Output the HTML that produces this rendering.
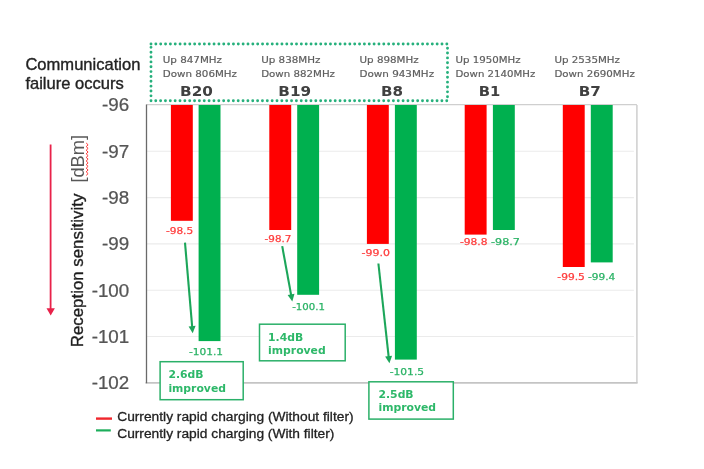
<!DOCTYPE html>
<html lang="en"><head><meta charset="utf-8"><title>Reception sensitivity chart</title>
<style>html,body{margin:0;padding:0;background:#fff}body{width:704px;height:469px;overflow:hidden}svg{display:block}.a{font-family:"Liberation Sans",Arial,sans-serif}.v{font-family:"DejaVu Sans",Verdana,sans-serif}.b{font-family:"DejaVu Sans",Verdana,sans-serif;font-weight:bold}</style></head><body>
<svg width="704" height="469" viewBox="0 0 704 469">
<defs><filter id="soft" x="0" y="0" width="704" height="469" filterUnits="userSpaceOnUse"><feGaussianBlur stdDeviation="0.7"/></filter></defs>
<rect width="704" height="469" fill="#fff"/>
<g filter="url(#soft)">
<rect width="704" height="469" fill="#fff"/>
<line x1="146.5" x2="633.9" y1="151.3" y2="151.3" stroke="#ebebeb" stroke-width="1.1"/>
<line x1="146.5" x2="633.9" y1="197.6" y2="197.6" stroke="#ebebeb" stroke-width="1.1"/>
<line x1="146.5" x2="633.9" y1="243.9" y2="243.9" stroke="#ebebeb" stroke-width="1.1"/>
<line x1="146.5" x2="633.9" y1="290.2" y2="290.2" stroke="#ebebeb" stroke-width="1.1"/>
<line x1="146.5" x2="633.9" y1="336.5" y2="336.5" stroke="#ebebeb" stroke-width="1.1"/>
<line x1="146.5" x2="636.9" y1="104.6" y2="104.6" stroke="#cfcfcf" stroke-width="1.2"/>
<line x1="636.9" x2="636.9" y1="105.0" y2="382.8" stroke="#cecece" stroke-width="1.5"/>
<line x1="145.5" x2="637.6" y1="382.8" y2="382.8" stroke="#c4c4c4" stroke-width="1.8"/>
<line x1="146.5" x2="146.5" y1="104.5" y2="383.3" stroke="#6a6a6a" stroke-width="1.3"/>
<rect x="170.9" y="105.0" width="21.9" height="115.8" fill="#ff0000"/>
<rect x="198.6" y="105.0" width="21.9" height="236.1" fill="#00b050"/>
<rect x="269.3" y="105.0" width="21.9" height="125.0" fill="#ff0000"/>
<rect x="297.2" y="105.0" width="21.9" height="189.8" fill="#00b050"/>
<rect x="366.9" y="105.0" width="21.9" height="138.9" fill="#ff0000"/>
<rect x="394.9" y="105.0" width="21.9" height="254.6" fill="#00b050"/>
<rect x="464.7" y="105.0" width="21.9" height="129.6" fill="#ff0000"/>
<rect x="492.9" y="105.0" width="21.9" height="125.0" fill="#00b050"/>
<rect x="562.8" y="105.0" width="21.9" height="162.0" fill="#ff0000"/>
<rect x="590.8" y="105.0" width="21.9" height="157.4" fill="#00b050"/>
<text class="a" transform="translate(129.2,111.4) scale(1.055,1)" font-size="17.8" fill="#555" stroke="#555" stroke-width="0.25" text-anchor="end">-96</text>
<text class="a" transform="translate(129.2,157.7) scale(1.055,1)" font-size="17.8" fill="#555" stroke="#555" stroke-width="0.25" text-anchor="end">-97</text>
<text class="a" transform="translate(129.2,204.0) scale(1.055,1)" font-size="17.8" fill="#555" stroke="#555" stroke-width="0.25" text-anchor="end">-98</text>
<text class="a" transform="translate(129.2,250.3) scale(1.055,1)" font-size="17.8" fill="#555" stroke="#555" stroke-width="0.25" text-anchor="end">-99</text>
<text class="a" transform="translate(129.2,296.6) scale(1.055,1)" font-size="17.8" fill="#555" stroke="#555" stroke-width="0.25" text-anchor="end">-100</text>
<text class="a" transform="translate(129.2,342.9) scale(1.055,1)" font-size="17.8" fill="#555" stroke="#555" stroke-width="0.25" text-anchor="end">-101</text>
<text class="a" transform="translate(129.2,389.2) scale(1.055,1)" font-size="17.8" fill="#555" stroke="#555" stroke-width="0.25" text-anchor="end">-102</text>
<text class="a" x="25.4" y="70" font-size="16.4" fill="#222" stroke="#222" stroke-width="0.35" textLength="115" lengthAdjust="spacingAndGlyphs">Communication</text>
<text class="a" x="25.4" y="89" font-size="16.4" fill="#222" stroke="#222" stroke-width="0.35" textLength="98.4" lengthAdjust="spacingAndGlyphs">failure occurs</text>
<text class="a" transform="translate(82.6,347.2) rotate(-90)" font-size="16.8" fill="#1f1f1f" stroke="#1f1f1f" stroke-width="0.35" textLength="153.5" lengthAdjust="spacingAndGlyphs">Reception sensitivity</text>
<text class="a" transform="translate(83.6,182.6) rotate(-90)" font-size="17.6" fill="#595959" textLength="47.6" lengthAdjust="spacingAndGlyphs">[dBm]</text>
<path d="M86.2 143 L88.1 144.8 L86.2 146.6 L88.1 148.4 L86.2 150.2 L88.1 152.0 L86.2 153.8 L88.1 155.6 L86.2 157.4 L88.1 159.2 L86.2 161.0 L88.1 162.8 L86.2 164.6 L88.1 166.4 L86.2 168.2 L88.1 170.0 L86.2 171.8 L88.1 173.6 L86.2 175.4" fill="none" stroke="#ff3030" stroke-width="1"/>
<line x1="50.6" x2="50.6" y1="144.5" y2="310" stroke="#e8214a" stroke-width="1.8"/>
<path d="M46.5 308.2 L54.9 308.2 L50.7 315.6 Z" fill="#e8214a"/>
<rect x="151" y="44" width="296.5" height="56.8" fill="none" stroke="#25b07c" stroke-width="2.9" stroke-linecap="round" stroke-dasharray="0 4.85"/>
<text class="v" x="162.8" y="63.3" font-size="9.4" fill="#5e5e5e" stroke="#5e5e5e" stroke-width="0.2" textLength="59.2" lengthAdjust="spacingAndGlyphs">Up 847MHz</text>
<text class="v" x="162.8" y="76.6" font-size="9.4" fill="#5e5e5e" stroke="#5e5e5e" stroke-width="0.2" textLength="74.2" lengthAdjust="spacingAndGlyphs">Down 806MHz</text>
<text class="b" x="180.1" y="96.4" font-size="14.8" fill="#404040" textLength="32.8" lengthAdjust="spacingAndGlyphs">B20</text>
<text class="v" x="261.2" y="63.3" font-size="9.4" fill="#5e5e5e" stroke="#5e5e5e" stroke-width="0.2" textLength="59.3" lengthAdjust="spacingAndGlyphs">Up 838MHz</text>
<text class="v" x="261.2" y="76.6" font-size="9.4" fill="#5e5e5e" stroke="#5e5e5e" stroke-width="0.2" textLength="73.8" lengthAdjust="spacingAndGlyphs">Down 882MHz</text>
<text class="b" x="278.3" y="96.4" font-size="14.8" fill="#404040" textLength="32.8" lengthAdjust="spacingAndGlyphs">B19</text>
<text class="v" x="359.5" y="63.3" font-size="9.4" fill="#5e5e5e" stroke="#5e5e5e" stroke-width="0.2" textLength="59.2" lengthAdjust="spacingAndGlyphs">Up 898MHz</text>
<text class="v" x="359.5" y="76.6" font-size="9.4" fill="#5e5e5e" stroke="#5e5e5e" stroke-width="0.2" textLength="74.6" lengthAdjust="spacingAndGlyphs">Down 943MHz</text>
<text class="b" x="381.1" y="96.4" font-size="14.8" fill="#404040" textLength="22.0" lengthAdjust="spacingAndGlyphs">B8</text>
<text class="v" x="455.5" y="63.3" font-size="9.4" fill="#5e5e5e" stroke="#5e5e5e" stroke-width="0.2" textLength="65.0" lengthAdjust="spacingAndGlyphs">Up 1950MHz</text>
<text class="v" x="455.5" y="76.6" font-size="9.4" fill="#5e5e5e" stroke="#5e5e5e" stroke-width="0.2" textLength="79.8" lengthAdjust="spacingAndGlyphs">Down 2140MHz</text>
<text class="b" x="478.8" y="96.4" font-size="14.8" fill="#404040" textLength="21.6" lengthAdjust="spacingAndGlyphs">B1</text>
<text class="v" x="554.4" y="63.3" font-size="9.4" fill="#5e5e5e" stroke="#5e5e5e" stroke-width="0.2" textLength="65.6" lengthAdjust="spacingAndGlyphs">Up 2535MHz</text>
<text class="v" x="554.4" y="76.6" font-size="9.4" fill="#5e5e5e" stroke="#5e5e5e" stroke-width="0.2" textLength="80.4" lengthAdjust="spacingAndGlyphs">Down 2690MHz</text>
<text class="b" x="578.8" y="96.4" font-size="14.8" fill="#404040" textLength="22.1" lengthAdjust="spacingAndGlyphs">B7</text>
<text class="v" x="165.9" y="233.8" font-size="9" fill="#ff3c3c" stroke="#ff3c3c" stroke-width="0.25" textLength="27.3" lengthAdjust="spacingAndGlyphs">-98.5</text>
<text class="v" x="188.9" y="354.9" font-size="9" fill="#2bb366" stroke="#2bb366" stroke-width="0.25" textLength="34.1" lengthAdjust="spacingAndGlyphs">-101.1</text>
<text class="v" x="264.6" y="242.4" font-size="9" fill="#ff3c3c" stroke="#ff3c3c" stroke-width="0.25" textLength="26.8" lengthAdjust="spacingAndGlyphs">-98.7</text>
<text class="v" x="292.2" y="310.2" font-size="9" fill="#2bb366" stroke="#2bb366" stroke-width="0.25" textLength="32.8" lengthAdjust="spacingAndGlyphs">-100.1</text>
<text class="v" x="361.6" y="255.6" font-size="9" fill="#ff3c3c" stroke="#ff3c3c" stroke-width="0.25" textLength="28.4" lengthAdjust="spacingAndGlyphs">-99.0</text>
<text class="v" x="389.7" y="374.7" font-size="9" fill="#2bb366" stroke="#2bb366" stroke-width="0.25" textLength="34.4" lengthAdjust="spacingAndGlyphs">-101.5</text>
<text class="v" x="459.9" y="244.7" font-size="9" fill="#ff3c3c" stroke="#ff3c3c" stroke-width="0.25" textLength="27.6" lengthAdjust="spacingAndGlyphs">-98.8</text>
<text class="v" x="491.0" y="244.7" font-size="9" fill="#2bb366" stroke="#2bb366" stroke-width="0.25" textLength="28.9" lengthAdjust="spacingAndGlyphs">-98.7</text>
<text class="v" x="557.3" y="279.6" font-size="9" fill="#ff3c3c" stroke="#ff3c3c" stroke-width="0.25" textLength="27.6" lengthAdjust="spacingAndGlyphs">-99.5</text>
<text class="v" x="588.0" y="279.6" font-size="9" fill="#2bb366" stroke="#2bb366" stroke-width="0.25" textLength="27.3" lengthAdjust="spacingAndGlyphs">-99.4</text>
<line x1="185.0" y1="242.6" x2="192.2" y2="327.1" stroke="#1ea65a" stroke-width="2.1"/>
<path d="M188.6 326.4 L195.6 325.8 L192.7 333.3 Z" fill="#1ea65a"/>
<line x1="282.2" y1="246.1" x2="291.2" y2="295.4" stroke="#1ea65a" stroke-width="2.1"/>
<path d="M287.6 295.0 L294.5 293.8 L292.3 301.5 Z" fill="#1ea65a"/>
<line x1="378.4" y1="263.5" x2="388.7" y2="357.1" stroke="#1ea65a" stroke-width="2.1"/>
<path d="M385.1 356.5 L392.1 355.8 L389.4 363.3 Z" fill="#1ea65a"/>
<rect x="160.1" y="361.7" width="83.1" height="38.0" fill="#fff" stroke="#2bb068" stroke-width="1.5"/>
<text class="b" x="168.4" y="378.3" font-size="10.8" fill="#2db869">2.6dB</text>
<text class="b" x="168.4" y="391.7" font-size="10.8" fill="#2db869" textLength="57.6" lengthAdjust="spacingAndGlyphs">improved</text>
<rect x="259.5" y="324.2" width="85.7" height="36.6" fill="#fff" stroke="#2bb068" stroke-width="1.5"/>
<text class="b" x="268.1" y="340.6" font-size="10.8" fill="#2db869">1.4dB</text>
<text class="b" x="268.1" y="353.8" font-size="10.8" fill="#2db869" textLength="57.6" lengthAdjust="spacingAndGlyphs">improved</text>
<rect x="368.9" y="381.8" width="84.4" height="37.3" fill="#fff" stroke="#2bb068" stroke-width="1.5"/>
<text class="b" x="378.5" y="397.6" font-size="10.8" fill="#2db869">2.5dB</text>
<text class="b" x="378.5" y="411.2" font-size="10.8" fill="#2db869" textLength="57.6" lengthAdjust="spacingAndGlyphs">improved</text>
<line x1="96" x2="112" y1="418.6" y2="418.6" stroke="#f0272d" stroke-width="2.4"/>
<line x1="96" x2="110.8" y1="430.4" y2="430.4" stroke="#1fae5b" stroke-width="2.2"/>
<text class="a" x="117.2" y="421.2" font-size="13.7" fill="#222" stroke="#222" stroke-width="0.3" textLength="236.4" lengthAdjust="spacingAndGlyphs">Currently rapid charging (Without filter)</text>
<text class="a" x="117.2" y="437.8" font-size="13.7" fill="#222" stroke="#222" stroke-width="0.3" textLength="217.2" lengthAdjust="spacingAndGlyphs">Currently rapid charging (With filter)</text>
</g>
</svg></body></html>
